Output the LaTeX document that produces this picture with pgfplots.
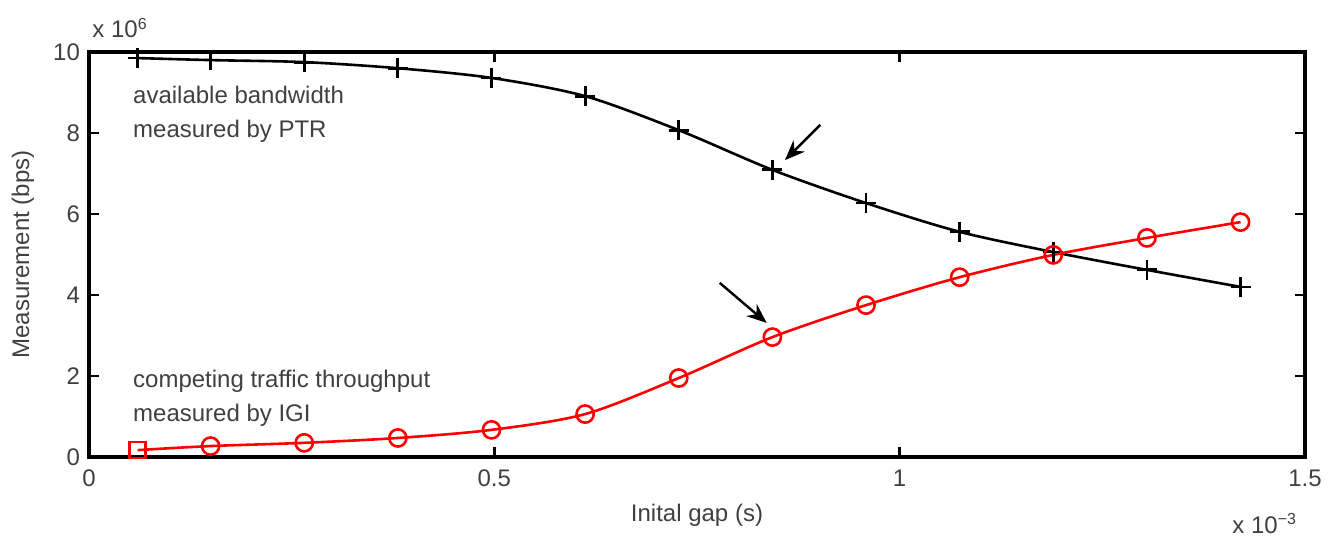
\documentclass[border=0pt]{standalone}
\usepackage{pgfplots}
\pgfplotsset{compat=1.18}
\usepackage{fontspec}
\setmainfont{Liberation Sans}
\usetikzlibrary{arrows.meta}

\definecolor{txt}{gray}{0.25}

\begin{document}
\begin{tikzpicture}
\begin{axis}[
    scale only axis,
    width=608pt, height=202.5pt,
    xmin=0, xmax=1.5, ymin=0, ymax=10,
    xtick={0,0.5,1,1.5}, xticklabels={0,0.5,1,1.5},
    ytick={0,2,4,6,8,10},
    tick align=inside,
    major tick length=5pt,
    axis line style={line width=1.6pt},
    every tick/.style={black, line width=1.4pt},
    tick label style={font=\fontsize{12}{14}\selectfont, text=txt},
    /pgf/number format/assume math mode=true,
    xticklabel style={yshift=-3pt},
    yticklabel style={xshift=-1pt},
    xlabel={Inital gap (s)},
    ylabel={Measurement (bps)},
    every axis x label/.style={at={([yshift=-29pt]axis description cs:0.5,0)}, anchor=center,
        font=\fontsize{12}{14}\selectfont, text=txt},
    every axis y label/.style={at={([xshift=-33pt]axis description cs:0,0.5)}, anchor=center, rotate=90,
        font=\fontsize{12}{14}\selectfont, text=txt},
    clip=false,
]
% available bandwidth (PTR), units of 1e6 bps
\addplot[black, line width=1.3pt, smooth, mark=+, mark size=5pt,
         mark options={line width=1.4pt}] coordinates {
    (0.060, 9.85) (0.150, 9.80) (0.2655, 9.75) (0.381, 9.60) (0.4965, 9.36)
    (0.612, 8.91) (0.7275, 8.07) (0.843, 7.09) (0.9585, 6.27) (1.074, 5.56)
    (1.1895, 5.06) (1.305, 4.62) (1.4205, 4.20)
};
% competing traffic (IGI)
\addplot[red, line width=1.3pt, smooth, mark=o, mark size=4.3pt,
         mark indices={2,...,13}, mark options={line width=1.3pt}] coordinates {
    (0.060, 0.17) (0.150, 0.27) (0.2655, 0.35) (0.381, 0.47) (0.4965, 0.67)
    (0.612, 1.06) (0.7275, 1.95) (0.843, 2.96) (0.9585, 3.75) (1.074, 4.44)
    (1.1895, 4.99) (1.305, 5.41) (1.4205, 5.80)
};
\addplot[red, only marks, mark=square, mark size=4pt,
         mark options={line width=1.3pt}] coordinates {(0.060, 0.17)};

\node[anchor=north west, align=left, inner sep=0pt, text=txt,
      font=\fontsize{12}{17}\selectfont] at (axis cs:0.054,9.16)
      {available bandwidth\\measured by PTR};
\node[anchor=north west, align=left, inner sep=0pt, text=txt,
      font=\fontsize{12}{17}\selectfont] at (axis cs:0.054,2.15)
      {competing traffic throughput\\measured by IGI};

\draw[-{Stealth[length=10pt,width=8pt]}, line width=1.2pt]
    (axis cs:0.902,8.20) -- (axis cs:0.8585,7.33);
\draw[-{Stealth[length=10pt,width=8pt]}, line width=1.2pt]
    (axis cs:0.778,4.30) -- (axis cs:0.836,3.31);

\node[anchor=base west, inner sep=0pt, text=txt, font=\fontsize{12}{14}\selectfont]
    at ([xshift=1.5pt,yshift=7pt]axis description cs:0,1) {x 10\textsuperscript{6}};
\node[anchor=base west, inner sep=0pt, text=txt, font=\fontsize{12}{14}\selectfont]
    at ([yshift=-38pt]axis description cs:0.94,0) {x 10\textsuperscript{−3}};

\coordinate (bl) at (rel axis cs:0,0);
\coordinate (tr) at (rel axis cs:1,1);
\end{axis}
\path ([shift={(-44.5pt,-39.5pt)}]bl) rectangle ([shift={(12pt,26pt)}]tr);
\end{tikzpicture}
\end{document}
